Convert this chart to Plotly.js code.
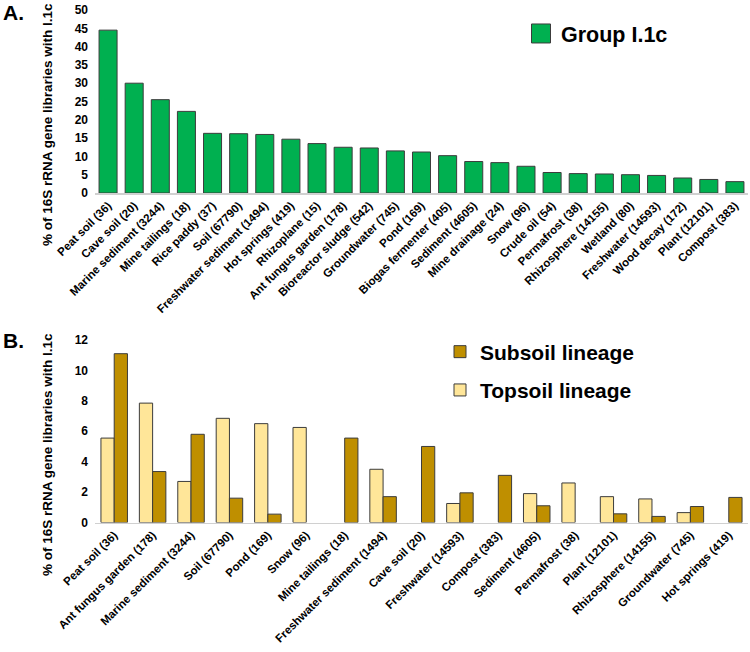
<!DOCTYPE html>
<html>
<head>
<meta charset="utf-8">
<script src="https://cdn.plot.ly/plotly-3.0.1.min.js"></script>
<style>html,body{margin:0;padding:0;background:#fff}#chart{width:750px;height:652px}</style>
</head>
<body>
<div id="chart"></div>
<script>
// Panel A data
const categoriesA = ["Peat soil (36)","Cave soil (20)","Marine sediment (3244)","Mine tailings (18)","Rice paddy (37)","Soil (67790)","Freshwater sediment (1494)","Hot springs (419)","Rhizoplane (15)","Ant fungus garden (178)","Bioreactor sludge (542)","Groundwater (745)","Pond (169)","Biogas fermenter (405)","Sediment (4605)","Mine drainage (24)","Snow (96)","Crude oil (54)","Permafrost (38)","Rhizosphere (14155)","Wetland (80)","Freshwater (14593)","Wood decay (172)","Plant (12101)","Compost (383)"];
const groupI1c = [44.5,30.0,25.5,22.3,16.3,16.2,16.0,14.7,13.5,12.5,12.3,11.5,11.2,10.2,8.6,8.3,7.3,5.6,5.3,5.2,5.0,4.8,4.1,3.7,3.1];

// Panel B data (null = lineage not found in that environment)
const categoriesB = ["Peat soil (36)","Ant fungus garden (178)","Marine sediment (3244)","Soil (67790)","Pond (169)","Snow (96)","Mine tailings (18)","Freshwater sediment (1494)","Cave soil (20)","Freshwater (14593)","Compost (383)","Sediment (4605)","Permafrost (38)","Plant (12101)","Rhizosphere (14155)","Groundwater (745)","Hot springs (419)"];
const topsoil = [5.55,7.85,2.7,6.85,6.5,6.25,null,3.5,null,1.25,null,1.9,2.6,1.7,1.55,0.65,null];
const subsoil = [11.1,3.35,5.8,1.6,0.55,null,5.55,1.7,5.0,1.95,3.1,1.1,null,0.57,0.4,1.05,1.65];

const yTitle = "% of 16S rRNA gene libraries with I.1c";

const FONT = "Liberation Sans, Arial, sans-serif";
const W = 750, H = 652;
const px = x => x / W;
const py = y => 1 - y / H;
const outline = {color: '#3c3c3c', width: 1};

const traces = [
  {type:'bar', name:'Group I.1c', x:categoriesA, y:groupI1c, xaxis:'x', yaxis:'y',
   marker:{color:'#00b050', line:outline}, legend:'legend'},
  {type:'bar', name:'Topsoil lineage', x:categoriesB, y:topsoil, xaxis:'x2', yaxis:'y2',
   marker:{color:'#ffe699', line:outline}, legend:'legend2', legendgroup:'t', legendrank:2},
  {type:'bar', name:'Subsoil lineage', x:categoriesB, y:subsoil, xaxis:'x2', yaxis:'y2',
   marker:{color:'#bf8f00', line:outline}, legend:'legend2', legendgroup:'s', legendrank:1}
];

const tickFont = {family: FONT, size: 12, color: '#000', weight: 'bold'};
const catFont = {family: FONT, size: 11.5, color: '#000', weight: 'bold'};
const xDom = [px(95), px(748)];

const layout = {
  width: W, height: H,
  margin: {l:0, r:0, t:0, b:0},
  paper_bgcolor: '#fff', plot_bgcolor: '#fff',
  font: {family: FONT, color: '#000'},
  barmode: 'group', bargap: 0.31, bargroupgap: 0,
  showlegend: true,
  xaxis: {domain: xDom, anchor:'y', tickangle: -45, tickfont: catFont,
          showline: true, linecolor: '#d0d0d0', linewidth: 1.5, ticks: '', showgrid: false, zeroline: false, automargin: false},
  yaxis: {domain: [py(193), py(10)], anchor:'x', range: [0, 50], dtick: 5, tickfont: tickFont,
          showline: false, ticks: '', showgrid: false, zeroline: false, ticklabelstandoff: 6, automargin: false},
  xaxis2: {domain: xDom, anchor:'y2', tickangle: -45, tickfont: catFont,
          showline: true, linecolor: '#d0d0d0', linewidth: 1.5, ticks: '', showgrid: false, zeroline: false, automargin: false},
  yaxis2: {domain: [py(522.5), py(340)], anchor:'x2', range: [0, 12], dtick: 2, tickfont: tickFont,
          showline: false, ticks: '', showgrid: false, zeroline: false, ticklabelstandoff: 6, automargin: false},
  legend: {x: px(521), y: py(33.5), xanchor: 'left', yanchor: 'middle', bgcolor: 'rgba(0,0,0,0)',
           font: {family: FONT, size: 21.5, color: '#000', weight: 'bold'}},
  legend2: {x: px(440), y: py(371), xanchor: 'left', yanchor: 'middle', bgcolor: 'rgba(0,0,0,0)',
            traceorder: 'grouped', tracegroupgap: 8,
            font: {family: FONT, size: 21, color: '#000', weight: 'bold'}},
  annotations: [
    {text: 'A.', xref:'paper', yref:'paper', x: px(1), y: py(12), xanchor:'left', yanchor:'middle', showarrow:false,
     font:{family: FONT, size: 21, weight:'bold', color:'#000'}},
    {text: 'B.', xref:'paper', yref:'paper', x: px(1), y: py(340), xanchor:'left', yanchor:'middle', showarrow:false,
     font:{family: FONT, size: 21, weight:'bold', color:'#000'}},
    {text: yTitle, xref:'paper', yref:'paper', x: px(47), y: py(125), xanchor:'center', yanchor:'middle', textangle: -90, showarrow:false,
     font:{family: FONT, size: 13.5, weight:'bold', color:'#000'}},
    {text: yTitle, xref:'paper', yref:'paper', x: px(47), y: py(455), xanchor:'center', yanchor:'middle', textangle: -90, showarrow:false,
     font:{family: FONT, size: 13.5, weight:'bold', color:'#000'}}
  ]
};

Plotly.newPlot('chart', traces, layout, {staticPlot: true, displayModeBar: false}).then(() => {
  document.querySelectorAll('.legend .legendpoints path').forEach(p => {
    p.setAttribute('d', 'M9.5,9.5H-9.5V-9.5H9.5Z');
  });
});
</script>
</body>
</html>
